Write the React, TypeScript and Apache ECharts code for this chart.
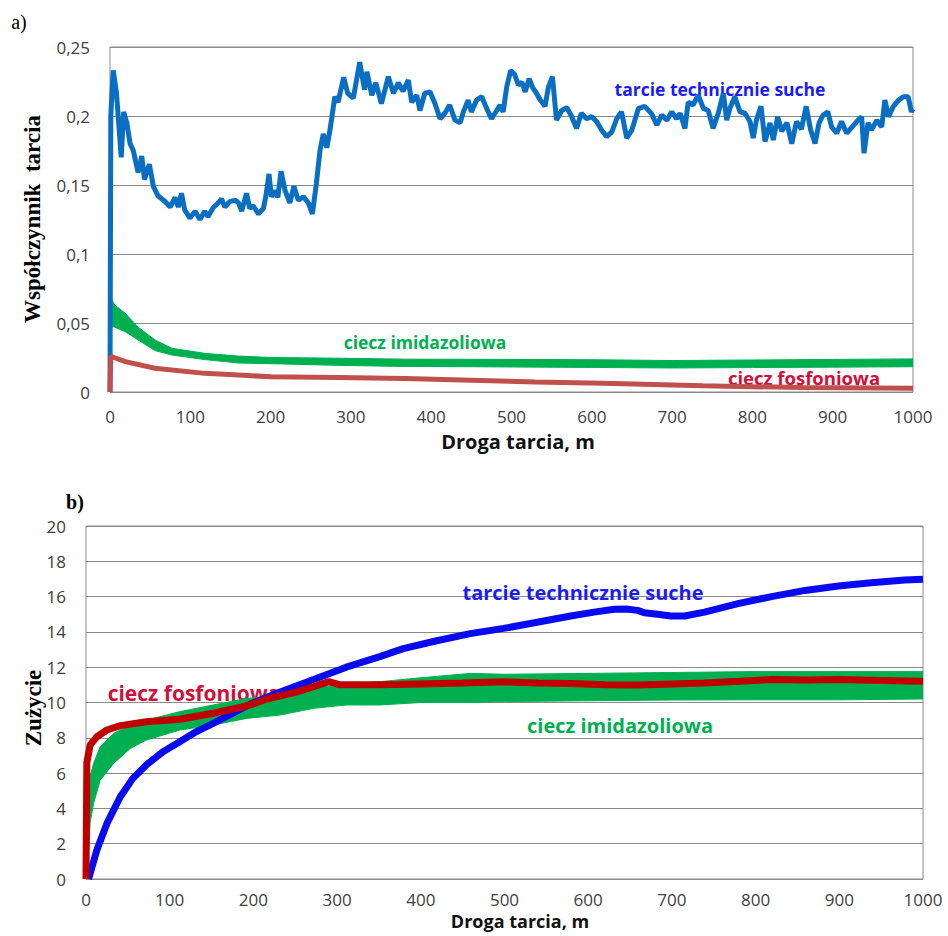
import React, { useEffect, useRef } from "react";
import * as echarts from "echarts";

// ---------- Chart a) friction coefficient ----------
const dryFrictionA: [number, number][] = [
  [0, 0], [1, 0.2], [4, 0.233], [8, 0.217], [14, 0.17], [17, 0.203], [21, 0.195], [25, 0.18], [29, 0.175],
  [35, 0.159], [39.5, 0.171], [43, 0.154], [49, 0.165], [54, 0.149], [60, 0.142], [68.5, 0.138], [75, 0.134],
  [81, 0.141], [85, 0.134], [89, 0.144], [93, 0.132], [99.6, 0.126], [106, 0.131], [112, 0.125], [118, 0.131],
  [122, 0.127], [129, 0.134], [133, 0.136], [139, 0.14], [143, 0.134], [149, 0.138], [156, 0.139], [160, 0.137],
  [164, 0.131], [170, 0.144], [174, 0.133], [178, 0.135], [185, 0.129], [191, 0.133], [194, 0.1415], [198, 0.158],
  [201, 0.1415], [205.5, 0.146], [209, 0.141], [213, 0.16], [218, 0.146], [224, 0.137], [229, 0.149], [234.5, 0.139],
  [241, 0.1415], [247, 0.137], [252, 0.129], [257, 0.151], [261.5, 0.175], [265.6, 0.187], [270, 0.177], [274, 0.19],
  [280, 0.214], [284, 0.21], [291, 0.228], [296, 0.2165], [303, 0.213], [311, 0.239], [317, 0.219], [320, 0.232],
  [326, 0.215], [331, 0.224], [338, 0.209], [346.6, 0.2285], [353, 0.2165], [359, 0.224], [365, 0.218], [371.5, 0.226],
  [375.7, 0.21], [382, 0.215], [386, 0.204], [392, 0.2165], [398.5, 0.2175], [404.7, 0.209], [411, 0.198], [417, 0.202],
  [423, 0.208], [429.6, 0.197], [436, 0.195], [440, 0.203], [446, 0.2115], [450, 0.203], [456.6, 0.2115], [463, 0.214],
  [469, 0.2055], [475, 0.198], [481.6, 0.204], [485.7, 0.208], [489.7, 0.203], [494, 0.221], [499, 0.233], [504, 0.23],
  [508.5, 0.2225], [513, 0.2245], [517, 0.2175], [522, 0.227], [526, 0.221], [531, 0.2165], [536, 0.2115], [541.7, 0.207],
  [546, 0.221], [551, 0.2285], [556, 0.197], [562.5, 0.204], [569, 0.206], [575, 0.1995], [581, 0.191], [587, 0.202],
  [593.6, 0.198], [600, 0.1995], [606, 0.196], [612, 0.19], [618.5, 0.185], [625, 0.1885], [631, 0.198], [637, 0.203],
  [643.5, 0.184], [650, 0.19], [658, 0.2055], [666, 0.207], [674.6, 0.2015], [681, 0.1935], [687, 0.2007], [693.6, 0.197],
  [699.5, 0.203], [705.7, 0.198], [710, 0.202], [716, 0.191], [720, 0.21], [726, 0.208], [732.6, 0.215], [739, 0.2055],
  [745, 0.204], [751, 0.191], [757.5, 0.202], [763.8, 0.2165], [768, 0.197], [772, 0.2055], [778, 0.214], [784.6, 0.203],
  [790.8, 0.202], [797, 0.196], [801, 0.184], [805, 0.197], [810.7, 0.207], [815.7, 0.1815], [822, 0.195], [826, 0.1825],
  [831.5, 0.1995], [836.5, 0.189], [843, 0.195], [849, 0.18], [855, 0.196], [861, 0.1905], [867, 0.207], [872.5, 0.19],
  [878, 0.18], [883, 0.195], [888, 0.2007], [894, 0.203], [898.7, 0.192], [905, 0.1875], [911, 0.196], [917.4, 0.1875],
  [924, 0.192], [930, 0.196], [936, 0.1995], [939, 0.173], [944, 0.195], [948.5, 0.19], [955, 0.197], [961, 0.192],
  [965, 0.2115], [969.5, 0.1995], [975.5, 0.207], [982, 0.2115], [988, 0.214], [994, 0.214], [998, 0.203], [1000, 0.205],
];

const imidazoliumA_x = [0, 1, 6, 19, 35, 56, 77, 118, 160, 201, 284, 367, 450, 600, 700, 800, 900, 1000];
const imidazoliumA_upper = [0.09, 0.068, 0.063, 0.057, 0.047, 0.0377, 0.0317, 0.028, 0.026, 0.025, 0.0245, 0.0238, 0.0237, 0.0234, 0.0228, 0.0232, 0.0236, 0.024];
const imidazoliumA_lower = [0, 0.048, 0.047, 0.0437, 0.0377, 0.03, 0.0268, 0.0235, 0.021, 0.0205, 0.0193, 0.0185, 0.0183, 0.0178, 0.0174, 0.0177, 0.018, 0.0183];

const phosphoniumA: [number, number][] = [
  [0, 0], [1, 0.026], [5, 0.025], [19, 0.022], [56, 0.0172], [118, 0.0135], [160, 0.0123], [201, 0.011],
  [284, 0.0105], [367, 0.0098], [450, 0.0085], [530, 0.0072], [614, 0.0063], [738, 0.0045], [863, 0.0032], [1000, 0.0027],
];

// ---------- Chart b) wear ----------
const dryWearB: [number, number][] = [
  [3, 0], [13, 1.64], [25, 3.15], [41, 4.66], [56, 5.7], [72, 6.46], [92, 7.21], [112, 7.78], [132, 8.35], [152, 8.82],
  [196, 9.9], [232, 10.6], [272, 11.3], [311, 12.0], [351, 12.6], [379, 13.05], [419, 13.5], [459, 13.9], [499, 14.2],
  [539, 14.55], [579, 14.9], [607, 15.12], [631, 15.28], [645, 15.3], [659, 15.22], [667, 15.08], [683, 15.0], [699, 14.9],
  [715, 14.9], [739, 15.12], [779, 15.6], [819, 16.0], [859, 16.35], [899, 16.6], [938, 16.78], [978, 16.94], [1000, 16.98],
];

const phosphoniumB: [number, number][] = [
  [0, 0], [1, 6.6], [5, 7.6], [13, 8.06], [25, 8.44], [41, 8.69], [72, 8.91], [112, 9.05], [152, 9.39], [192, 9.8],
  [216, 10.2], [252, 10.6], [272, 10.9], [290, 11.18], [304, 11.0], [351, 11.0], [400, 11.05], [450, 11.1], [499, 11.17],
  [540, 11.1], [579, 11.08], [620, 11.0], [659, 10.99], [700, 11.05], [739, 11.1], [780, 11.2], [819, 11.3], [860, 11.28],
  [899, 11.3], [950, 11.25], [1000, 11.2],
];

const imidazoliumB_x = [0, 2, 5, 9, 17, 33, 53, 72, 112, 152, 192, 232, 272, 311, 351, 400, 459, 500, 600, 700, 800, 900, 1000];
const imidazoliumB_upper = [0, 4.7, 5.8, 6.55, 7.5, 8.25, 8.73, 9.0, 9.48, 9.86, 10.23, 10.42, 10.8, 11.08, 11.18, 11.4, 11.65, 11.6, 11.65, 11.7, 11.75, 11.75, 11.75];
const imidazoliumB_lower = [0, 0.5, 3.2, 4.28, 5.6, 6.55, 7.4, 7.87, 8.44, 8.73, 9.1, 9.29, 9.67, 9.86, 9.86, 10.0, 10.0, 10.05, 10.1, 10.14, 10.15, 10.15, 10.2];

const xTicks = { min: 0, max: 1000, interval: 100 };
const yTicksA = { min: 0, max: 0.25, interval: 0.05 };
const yTicksB = { min: 0, max: 20, interval: 2 };

const SANS = "'Open Sans', 'Noto Sans', sans-serif";
const SERIF = "'Liberation Serif', 'DejaVu Serif', serif";
const GRID_COLOR = "#8a8a8a";
const LABEL_COLOR = "#404040";

function bandSeries(id: string, xs: number[], lower: number[], upper: number[], idx: number, color: string) {
  return {
    type: "custom",
    name: id,
    xAxisIndex: idx,
    yAxisIndex: idx,
    silent: true,
    clip: true,
    z: 2,
    encode: { x: 0, y: 1 },
    data: [[xs[0], lower[0]]],
    renderItem: (_params: any, api: any) => {
      const pts: number[][] = [];
      for (let i = 0; i < xs.length; i++) pts.push(api.coord([xs[i], upper[i]]));
      for (let i = xs.length - 1; i >= 0; i--) pts.push(api.coord([xs[i], lower[i]]));
      return {
        type: "polygon",
        shape: { points: pts },
        style: { fill: color, stroke: color, lineWidth: 1 },
      };
    },
  };
}

function xAxisCfg(gridIndex: number, margin: number) {
  return {
    type: "value",
    gridIndex,
    ...xTicks,
    axisLine: { show: false },
    axisTick: { show: false },
    splitLine: { show: false },
    axisLabel: { fontFamily: SANS, fontSize: 17, color: LABEL_COLOR, margin, formatter: (v: number) => String(v) },
  };
}

function yAxisCfg(gridIndex: number, ticks: any, formatter: (v: number) => string) {
  return {
    type: "value",
    gridIndex,
    ...ticks,
    axisLine: { show: false },
    axisTick: { show: false },
    splitLine: { show: true, lineStyle: { color: GRID_COLOR, width: 1 } },
    axisLabel: { fontFamily: SANS, fontSize: 17, color: LABEL_COLOR, margin: 20, formatter },
  };
}

function txt(text: string, x: number, y: number, font: any, extra: any = {}) {
  return {
    type: "text",
    x,
    y,
    z: 1,
    silent: true,
    ...extra,
    style: {
      text,
      align: "center",
      verticalAlign: "middle",
      textAlign: "center",
      textVerticalAlign: "middle",
      ...font,
    },
  };
}

export default function App() {
  const ref = useRef<HTMLDivElement>(null);

  useEffect(() => {
    document.body.style.margin = "0";
    if (!ref.current) return;
    const chart = echarts.init(ref.current, undefined, { renderer: "svg" });

    const option: any = {
      animation: false,
      backgroundColor: "#ffffff",
      grid: [
        { left: 110, top: 47, right: 35, height: 345, show: true, borderColor: GRID_COLOR, borderWidth: 1, backgroundColor: "transparent" },
        { left: 86, top: 526, right: 25, height: 353, show: true, borderColor: GRID_COLOR, borderWidth: 1, backgroundColor: "transparent" },
      ],
      xAxis: [xAxisCfg(0, 16), xAxisCfg(1, 12)],
      yAxis: [
        yAxisCfg(0, yTicksA, (v: number) => String(Number(v.toFixed(2))).replace(".", ",")),
        yAxisCfg(1, yTicksB, (v: number) => String(v)),
      ],
      series: [
        {
          type: "line",
          name: "tarcie technicznie suche (a)",
          xAxisIndex: 0,
          yAxisIndex: 0,
          symbol: "none",
          lineStyle: { color: "#0a6fc2", width: 5 },
          data: dryFrictionA,
          z: 3,
        },
        bandSeries("ciecz imidazoliowa (a)", imidazoliumA_x, imidazoliumA_lower, imidazoliumA_upper, 0, "#00b050"),
        {
          type: "line",
          name: "ciecz fosfoniowa (a)",
          xAxisIndex: 0,
          yAxisIndex: 0,
          symbol: "none",
          lineStyle: { color: "#c0504d", width: 5 },
          data: phosphoniumA,
          z: 3,
        },
        bandSeries("ciecz imidazoliowa (b)", imidazoliumB_x, imidazoliumB_lower, imidazoliumB_upper, 1, "#00b050"),
        {
          type: "line",
          name: "tarcie technicznie suche (b)",
          xAxisIndex: 1,
          yAxisIndex: 1,
          symbol: "none",
          lineStyle: { color: "#0a0af0", width: 7 },
          data: dryWearB,
          z: 3,
        },
        {
          type: "line",
          name: "ciecz fosfoniowa (b)",
          xAxisIndex: 1,
          yAxisIndex: 1,
          symbol: "none",
          lineStyle: { color: "#c00000", width: 7 },
          data: phosphoniumB,
          z: 4,
        },
      ],
      graphic: [
        txt("a)", 19, 22, { font: `normal 20px ${SERIF}`, fill: "#000" }),
        txt("b)", 75, 502, { font: `bold 20px ${SERIF}`, fill: "#000" }),
        txt("Współczynnik  tarcia", 32, 219, { font: `bold 23px ${SERIF}`, fill: "#000" }, { rotation: Math.PI / 2 }),
        txt("Zużycie", 33, 708, { font: `bold 23px ${SERIF}`, fill: "#000" }, { rotation: Math.PI / 2 }),
        txt("Droga tarcia, m", 518, 441, { font: `bold 20px ${SANS}`, fill: "#111" }),
        txt("Droga tarcia, m", 520, 921, { font: `bold 18px ${SANS}`, fill: "#111" }),
        txt("tarcie technicznie suche", 720, 89, { font: `bold 17.5px ${SANS}`, fill: "#1a1aff" }),
        txt("ciecz imidazoliowa", 425, 342, { font: `bold 17.5px ${SANS}`, fill: "#00b050" }),
        txt("ciecz fosfoniowa", 804, 377, { font: `bold 18.5px ${SANS}`, fill: "#d0103a" }),
        txt("tarcie technicznie suche", 583, 592, { font: `bold 20px ${SANS}`, fill: "#1a1aff" }),
        txt("ciecz imidazoliowa", 620, 725, { font: `bold 20px ${SANS}`, fill: "#00b050" }),
        txt("ciecz fosfoniowa", 194, 693, { font: `bold 21px ${SANS}`, fill: "#d0103a" }),
      ],
    };

    chart.setOption(option);
    return () => chart.dispose();
  }, []);

  return <div ref={ref} style={{ width: 948, height: 936 }} />;
}
